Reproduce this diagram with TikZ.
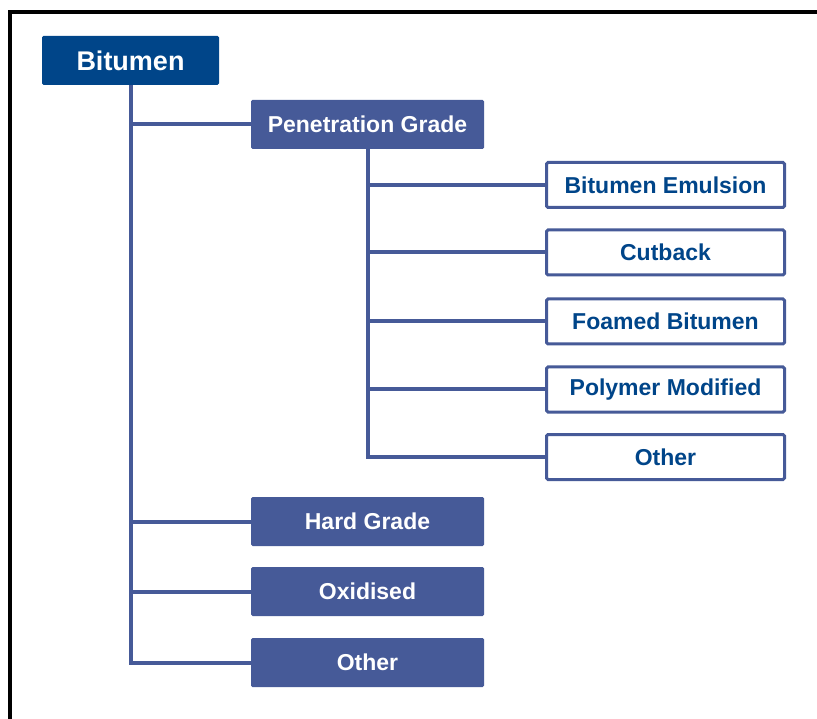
\documentclass[tikz,border=0pt]{standalone}
\usepackage{fontspec}
\setmainfont{Liberation Sans}
\definecolor{darkblue}{RGB}{0,69,137}
\definecolor{slate}{RGB}{70,90,152}
\tikzset{
  rootbox/.style={fill=darkblue, draw=none, rounded corners=1.5pt, minimum width=177pt, minimum height=49pt, inner sep=0pt, text=white, font=\fontsize{27}{30}\selectfont\bfseries},
  catbox/.style={fill=slate, draw=none, rounded corners=1.5pt, minimum width=233pt, minimum height=49pt, inner sep=0pt, text=white, font=\fontsize{23}{26}\selectfont\bfseries},
  subbox/.style={fill=white, draw=slate, line width=3pt, rounded corners=1.5pt, minimum width=238pt, minimum height=45pt, inner sep=0pt, text=darkblue, font=\fontsize{23}{26}\selectfont\bfseries},
  conn/.style={draw=slate, line width=4pt}
}
\begin{document}
\begin{tikzpicture}[x=1pt,y=-1pt]
\useasboundingbox (0,0) rectangle (817,719);
\clip (0,0) rectangle (817,719);
\fill[white] (0,0) rectangle (817,719);
\draw[line width=4pt, black] (10,740) -- (10,12) -- (840,12);

\node[rootbox] (root) at (130.5,60.5) {Bitumen};
\node[catbox] (pen) at (367.5,124.5) {Penetration Grade};
\node[catbox] (hard) at (367.5,521.5) {Hard Grade};
\node[catbox] (oxi) at (367.5,591.5) {Oxidised};
\node[catbox] (oth) at (367.5,662.5) {Other};

\node[subbox] (emu) at (665.5,185) {Bitumen Emulsion};
\node[subbox] (cut) at (665.5,252.5) {Cutback};
\node[subbox] (foam) at (665.5,321.5) {Foamed Bitumen};
\node[subbox] (poly) at (665.5,389.5) {Polymer Modified};
\node[subbox] (soth) at (665.5,457) {Other};

\begin{scope}[on background layer/.style={}]
\draw[conn] (root.south) |- (pen.west);
\draw[conn] (root.south) |- (hard.west);
\draw[conn] (root.south) |- (oxi.west);
\draw[conn, line join=miter] (root.south) |- (oth.west);
\draw[conn] (pen.south) |- (emu.west);
\draw[conn] (pen.south) |- (cut.west);
\draw[conn] (pen.south) |- (foam.west);
\draw[conn] (pen.south) |- (poly.west);
\draw[conn, line join=miter] (pen.south) |- (soth.west);
\end{scope}
\end{tikzpicture}
\end{document}
